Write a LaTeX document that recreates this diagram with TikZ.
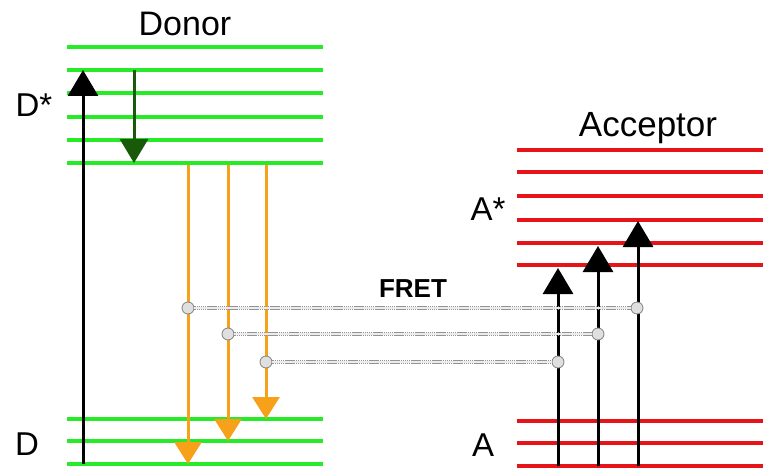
\documentclass[tikz,border=0pt]{standalone}
\usepackage{fontspec}
\setmainfont{Liberation Sans}
\usetikzlibrary{arrows.meta}
\definecolor{lvgreen}{RGB}{40,235,40}
\definecolor{lvred}{RGB}{230,20,25}
\definecolor{dkgreen}{RGB}{25,90,10}
\definecolor{orng}{RGB}{247,161,26}
\tikzset{
  glevel/.style={draw=lvgreen,line width=4pt},
  rlevel/.style={draw=lvred,line width=4pt},
  uparrow/.style={draw=black,line width=3pt,-{Triangle[width=30pt,length=26pt]}},
  relax/.style={draw=dkgreen,line width=3pt,-{Triangle[width=28pt,length=24pt]}},
  emit/.style={draw=orng,line width=3pt,-{Triangle[width=27pt,length=22pt]}},
  fretline/.style={draw=gray!85,line width=3.6pt,dash pattern=on 1.5pt off 0.6pt,
    postaction={draw=gray!15,line width=1.6pt,solid}},
  dot/.style={circle,fill=gray!25,draw=gray,line width=0.8pt,inner sep=0pt,minimum size=12pt},
  lbl/.style={inner sep=0pt,anchor=base}
}
\begin{document}
\begin{tikzpicture}[x=1pt,y=-1pt]
\useasboundingbox (0,0) rectangle (763,468);
% donor levels
\foreach \y in {47,70,93,117,140,163,419,441,464} \draw[glevel] (67,\y) -- (323,\y);
% acceptor levels
\foreach \y in {150,172,196,220,243,265,421,443,466} \draw[rlevel] (517,\y) -- (763,\y);
% labels
\node[lbl,font=\fontsize{34}{34}\selectfont] (donor) at (185,36) {Donor};
\node[lbl,font=\fontsize{35}{35}\selectfont] (acceptor) at (648,137) {Acceptor};
\node[lbl,font=\fontsize{33}{33}\selectfont] (dstar) at (34,117) {D*};
\node[lbl,font=\fontsize{33}{33}\selectfont] (d) at (27,455) {D};
\node[lbl,font=\fontsize{33}{33}\selectfont] (astar) at (488,220) {A*};
\node[lbl,font=\fontsize{33}{33}\selectfont] (a) at (483,456) {A};
\node[lbl,font=\bfseries\fontsize{26}{26}\selectfont] (fret) at (413,297) {FRET};
% coordinates
\coordinate (exb) at (83,464); \coordinate (ext) at (83,70);
\coordinate (rlt) at (134,70); \coordinate (rlb) at (134,163);
\coordinate (o1t) at (188,165); \coordinate (o1b) at (188,464);
\coordinate (o2t) at (228,165); \coordinate (o2b) at (228,441);
\coordinate (o3t) at (266,165); \coordinate (o3b) at (266,419);
\coordinate (a1b) at (558,466); \coordinate (a1t) at (558,268);
\coordinate (a2b) at (598,466); \coordinate (a2t) at (598,246);
\coordinate (a3b) at (638,466); \coordinate (a3t) at (638,221);
% arrows
\draw[uparrow] (exb) -- (ext);
\draw[relax] (rlt) -- (rlb);
\draw[emit] (o1t) -- (o1b);
\draw[emit] (o2t) -- (o2b);
\draw[emit] (o3t) -- (o3b);
\draw[uparrow] (a1b) -- (a1t);
\draw[uparrow] (a2b) -- (a2t);
\draw[uparrow] (a3b) -- (a3t);
% FRET links
\node[dot] (f1l) at (188,308) {}; \node[dot] (f1r) at (637,308) {};
\node[dot] (f2l) at (228,334) {}; \node[dot] (f2r) at (598,334) {};
\node[dot] (f3l) at (266,362) {}; \node[dot] (f3r) at (558,362) {};
\draw[fretline] (f1l) -- (f1r);
\draw[fretline] (f2l) -- (f2r);
\draw[fretline] (f3l) -- (f3r);
\end{tikzpicture}
\end{document}
